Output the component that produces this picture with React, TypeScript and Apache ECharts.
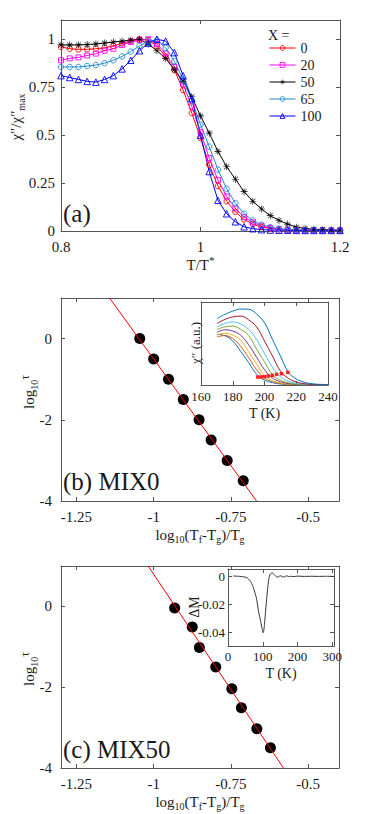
import React, { useEffect, useRef } from 'react';
import * as echarts from 'echarts';

// ---------- Panel (a) data ----------
const X_A = [0.8, 0.8125, 0.825, 0.8375, 0.85, 0.8625, 0.875, 0.8875, 0.9, 0.9125, 0.925, 0.9375, 0.95, 0.9625, 0.975, 0.9875, 1.0, 1.0125, 1.025, 1.0375, 1.05, 1.0625, 1.075, 1.0875, 1.1, 1.1125, 1.125, 1.1375, 1.15, 1.1625, 1.175, 1.1875, 1.2];
const Y_0 = [0.96, 0.95, 0.947, 0.947, 0.95, 0.955, 0.965, 0.978, 0.99, 1.0, 0.995, 0.965, 0.91, 0.84, 0.735, 0.615, 0.485, 0.345, 0.235, 0.155, 0.1, 0.06, 0.036, 0.021, 0.013, 0.008, 0.005, 0.004, 0.004, 0.003, 0.003, 0.003, 0.003];
const Y_20 = [0.89, 0.9, 0.905, 0.915, 0.925, 0.94, 0.95, 0.97, 0.985, 0.995, 1.0, 0.975, 0.925, 0.855, 0.765, 0.65, 0.515, 0.38, 0.265, 0.18, 0.118, 0.072, 0.045, 0.027, 0.016, 0.01, 0.007, 0.005, 0.004, 0.004, 0.003, 0.003, 0.003];
const Y_50 = [0.97, 0.97, 0.97, 0.972, 0.975, 0.98, 0.985, 0.99, 0.995, 1.0, 0.975, 0.94, 0.9, 0.84, 0.78, 0.7, 0.6, 0.51, 0.415, 0.335, 0.27, 0.205, 0.155, 0.115, 0.08, 0.055, 0.036, 0.02, 0.014, 0.009, 0.007, 0.005, 0.005];
const Y_65 = [0.855, 0.855, 0.855, 0.86, 0.865, 0.875, 0.89, 0.91, 0.935, 0.965, 0.99, 0.995, 0.955, 0.885, 0.79, 0.68, 0.555, 0.44, 0.32, 0.22, 0.145, 0.09, 0.055, 0.033, 0.02, 0.012, 0.008, 0.005, 0.004, 0.004, 0.003, 0.003, 0.003];
const Y_100 = [0.81, 0.8, 0.79, 0.78, 0.776, 0.79, 0.81, 0.845, 0.89, 0.94, 0.98, 1.0, 0.99, 0.93, 0.81, 0.69, 0.5, 0.31, 0.16, 0.09, 0.048, 0.022, 0.012, 0.007, 0.005, 0.004, 0.004, 0.003, 0.003, 0.003, 0.003, 0.003, 0.003];
const LEGEND_NAMES = ['0', '20', '50', '65', '100'];

// ---------- Panel (b) data ----------
const LOGDT_B = [-1.045, -1.0, -0.952, -0.904, -0.853, -0.814, -0.762, -0.71];
const LOGTAU_B = [0, -0.5, -1, -1.5, -2, -2.5, -3, -3.5];
const FIT_B_X = [-1.143, -0.667];
const FIT_B_Y = [1, -4];

// inset (b): chi'' curves vs T
const T_IB = [170, 175, 180, 185, 190, 195, 200, 205, 210, 215, 220, 225, 230, 235, 240];
const C1 = [0.61, 0.595, 0.53, 0.405, 0.27, 0.13, 0.061, 0.028, 0.012, 0.006, 0.004, 0.003, 0.003, 0.003, 0.003];
const C2 = [0.58, 0.595, 0.56, 0.465, 0.33, 0.185, 0.084, 0.04, 0.019, 0.009, 0.005, 0.003, 0.003, 0.003, 0.003];
const C3 = [0.6, 0.625, 0.6, 0.54, 0.4, 0.255, 0.114, 0.053, 0.025, 0.011, 0.006, 0.004, 0.003, 0.003, 0.003];
const C4 = [0.635, 0.665, 0.65, 0.6, 0.485, 0.335, 0.185, 0.085, 0.04, 0.018, 0.008, 0.004, 0.003, 0.003, 0.003];
const C5 = [0.67, 0.7, 0.71, 0.67, 0.595, 0.435, 0.28, 0.125, 0.058, 0.027, 0.012, 0.006, 0.004, 0.003, 0.003];
const C6 = [0.7, 0.74, 0.76, 0.735, 0.67, 0.55, 0.38, 0.215, 0.1, 0.046, 0.021, 0.011, 0.007, 0.004, 0.003];
const C7 = [0.74, 0.79, 0.82, 0.83, 0.785, 0.7, 0.53, 0.35, 0.17, 0.08, 0.037, 0.016, 0.008, 0.004, 0.003];
const C8 = [0.8, 0.85, 0.89, 0.915, 0.913, 0.855, 0.75, 0.55, 0.35, 0.155, 0.073, 0.034, 0.015, 0.008, 0.005];
const TF_IB = [195.8, 197.9, 200, 202.3, 204.9, 207.6, 210.7, 214.7];
const TF_VAL = [0.096, 0.096, 0.1, 0.108, 0.116, 0.128, 0.136, 0.152];

// ---------- Panel (c) data ----------
const LOGDT_C = [-0.932, -0.875, -0.852, -0.799, -0.747, -0.716, -0.666, -0.622];
const LOGTAU_C = [-0.04, -0.51, -1.02, -1.5, -2.04, -2.51, -3.03, -3.5];
const FIT_C_X = [-1.018, -0.58];
const FIT_C_Y = [1, -4];

// inset (c): Delta M vs T
const T_DM = [15, 30, 48, 56, 62, 67, 72, 77, 82, 88, 92, 96, 99, 101, 103, 105, 108, 111, 114, 117, 120, 124, 128, 132, 136, 140, 145, 150, 155, 160, 165, 170, 175, 180, 190, 200, 220, 240, 260, 280, 305];
const DM = [0, -0.0002, -0.0007, -0.0015, -0.003, -0.0048, -0.0076, -0.0115, -0.016, -0.0255, -0.03, -0.035, -0.0385, -0.0405, -0.039, -0.0345, -0.0255, -0.017, -0.0088, -0.003, 0.0007, 0.0018, 0.0021, 0.0012, 0.0002, -0.0007, -0.0006, 0.0002, -0.0003, -0.0008, -0.0002, 0.0001, -0.0005, -0.0002, -0.0004, -0.0001, -0.0003, -0.0002, -0.0003, -0.0002, -0.0003];

// ---------- tick values ----------
const A_X_TICKS = [0.8, 1, 1.2];
const A_Y_TICKS = [0, 0.25, 0.5, 0.75, 1];
const BC_X_TICKS = [-1.25, -1, -0.75, -0.5];
const BC_Y_TICKS = [-4, -2, 0];
const IB_X_TICKS = [160, 180, 200, 220, 240];
const IC_X_TICKS = [0, 100, 200, 300];
const IC_Y_TICKS = [-0.04, -0.02, 0];

// ---------- styles ----------
const FONT = "'Liberation Serif', 'Times New Roman', serif";
const TXT = '#1a1a1a';
const AXC = '#555555';
const STAR =
  'path://M-0.45,-5h0.9v10h-0.9z M-5,-0.45h10v0.9h-10z M-3.2,-3.8L3.8,3.2L3.2,3.8L-3.8,-3.2Z M3.2,-3.8L3.8,-3.2L-3.2,3.8L-3.8,3.2Z';
const IB_COLORS = ['#0072BD', '#D95319', '#EDB120', '#7E2F8E', '#77AC30', '#4DBEEE', '#A2142F', '#0072BD'];
const CLEAR = 'rgba(255,255,255,0)';

const RICH_AXIS = {
  sub: { fontSize: 10, lineHeight: 10, verticalAlign: 'bottom', fontFamily: FONT, color: TXT },
  sup: { fontSize: 11, lineHeight: 10, verticalAlign: 'top', fontFamily: FONT, color: TXT },
};
const RICH_G = {
  sub: { fontSize: 10, lineHeight: 10, verticalAlign: 'bottom', fontFamily: FONT, fill: TXT },
  sup: { fontSize: 12, lineHeight: 10, verticalAlign: 'top', fontFamily: FONT, fill: TXT },
};

function makeX(
  gridIndex: number, min: number, max: number, ticks: number[],
  labelSize: number, labelMargin: number, name = '', nameGap = 0, nameSize = 15,
) {
  const base: any = {
    type: 'value', gridIndex, min, max,
    axisLine: { show: true, onZero: false, lineStyle: { color: AXC, width: 1 } },
    axisTick: { show: true, inside: true, length: 4, customValues: ticks, lineStyle: { color: AXC, width: 1 } },
    splitLine: { show: false },
  };
  return [
    {
      ...base, position: 'bottom',
      axisLabel: labelSize
        ? { show: true, customValues: ticks, fontSize: labelSize, fontFamily: FONT, color: TXT, margin: labelMargin }
        : { show: false },
      name, nameLocation: 'middle', nameGap,
      nameTextStyle: { fontSize: nameSize, fontFamily: FONT, color: TXT, lineHeight: 20, rich: RICH_AXIS },
    },
    { ...base, position: 'top', axisLabel: { show: false } },
  ];
}

function makeY(
  gridIndex: number, min: number, max: number, ticks: number[],
  labelSize: number, labelMargin: number,
) {
  const base: any = {
    type: 'value', gridIndex, min, max,
    axisLine: { show: true, onZero: false, lineStyle: { color: AXC, width: 1 } },
    axisTick: { show: ticks.length > 0, inside: true, length: 4, customValues: ticks, lineStyle: { color: AXC, width: 1 } },
    splitLine: { show: false },
  };
  return [
    {
      ...base, position: 'left',
      axisLabel: labelSize
        ? { show: true, customValues: ticks, fontSize: labelSize, fontFamily: FONT, color: TXT, margin: labelMargin }
        : { show: false },
    },
    { ...base, position: 'right', axisLabel: { show: false } },
  ];
}

const pairs = (xs: number[], ys: number[]) => xs.map((x, i) => [x, ys[i]]);

function buildOption(): any {
  const aDefs = [
    { y: Y_0, color: '#ff0000', symbol: 'circle', size: 5.5, hollow: true },
    { y: Y_20, color: '#ff00ff', symbol: 'rect', size: 5, hollow: true },
    { y: Y_50, color: '#000000', symbol: STAR, size: 7, hollow: false },
    { y: Y_65, color: '#1f8ad0', symbol: 'circle', size: 5.5, hollow: true },
    { y: Y_100, color: '#0000ff', symbol: 'triangle', size: 6.5, hollow: true },
  ];
  const styleOf = (d: any) =>
    d.hollow
      ? { color: CLEAR, borderColor: d.color, borderWidth: 0.9 }
      : { color: d.color, borderWidth: 0 };
  const aSeries = aDefs.map((d, i) => ({
    type: 'line', name: LEGEND_NAMES[i], xAxisIndex: 0, yAxisIndex: 0,
    data: pairs(X_A, d.y), symbol: d.symbol, symbolSize: d.size, showAllSymbol: true,
    color: d.color, lineStyle: { width: 1, color: d.color },
    itemStyle: styleOf(d),
  }));
  const legendData = aDefs.map((d, i) => ({
    name: LEGEND_NAMES[i],
    itemStyle: styleOf(d),
    lineStyle: { color: d.color, width: 1 },
  }));

  const ibCurves = [C1, C2, C3, C4, C5, C6, C7, C8];
  const ibSeries = ibCurves.map((c, i) => ({
    type: 'line', xAxisIndex: 6, yAxisIndex: 6, data: pairs(T_IB, c),
    smooth: 0.4, symbol: 'none', lineStyle: { width: 1, color: IB_COLORS[i] }, z: 3,
  }));

  return {
    animation: false,
    backgroundColor: '#ffffff',
    textStyle: { fontFamily: FONT },
    grid: [
      { left: 61, top: 20, width: 279, height: 211 },
      { left: 61, top: 298, width: 278, height: 203 },
      { left: 61, top: 566, width: 278, height: 202 },
      { left: 201, top: 302, width: 127, height: 83, show: true, backgroundColor: '#ffffff', borderWidth: 0 },
      { left: 228, top: 569, width: 106, height: 77, show: true, backgroundColor: '#ffffff', borderWidth: 0 },
    ],
    xAxis: [
      ...makeX(0, 0.8, 1.2, A_X_TICKS, 15, 8, 'T/T{sup|*}', 18),
      ...makeX(1, -1.3, -0.4, BC_X_TICKS, 15, 8, 'log{sub|10}(T{sub|f}-T{sub|g})/T{sub|g}', 17),
      ...makeX(2, -1.3, -0.4, BC_X_TICKS, 15, 8, 'log{sub|10}(T{sub|f}-T{sub|g})/T{sub|g}', 19),
      ...makeX(3, 160, 240, IB_X_TICKS, 13, 5, 'T (K)', 15, 14),
      ...makeX(4, 0, 305, IC_X_TICKS, 13, 4, 'T (K)', 11, 14),
    ],
    yAxis: [
      ...makeY(0, 0, 1.1, A_Y_TICKS, 15, 6),
      ...makeY(1, -4, 1, BC_Y_TICKS, 15, 9),
      ...makeY(2, -4, 1, BC_Y_TICKS, 15, 9),
      ...makeY(3, 0, 1, [], 0, 0),
      ...makeY(4, -0.05, 0.005, IC_Y_TICKS, 13, 3),
    ],
    legend: {
      data: legendData, orient: 'vertical', left: 269, top: 41, padding: 0,
      itemWidth: 26, itemHeight: 6, itemGap: 3,
      textStyle: { fontSize: 14, fontFamily: FONT, color: TXT, lineHeight: 14 },
    },
    series: [
      ...aSeries,
      {
        type: 'line', xAxisIndex: 2, yAxisIndex: 2, data: pairs(FIT_B_X, FIT_B_Y),
        symbol: 'none', lineStyle: { width: 1, color: '#ff0000' },
      },
      {
        type: 'scatter', xAxisIndex: 2, yAxisIndex: 2, data: pairs(LOGDT_B, LOGTAU_B),
        symbolSize: 11, itemStyle: { color: '#000000', opacity: 1 },
      },
      {
        type: 'line', xAxisIndex: 4, yAxisIndex: 4, data: pairs(FIT_C_X, FIT_C_Y),
        symbol: 'none', lineStyle: { width: 1, color: '#ff0000' },
      },
      {
        type: 'scatter', xAxisIndex: 4, yAxisIndex: 4, data: pairs(LOGDT_C, LOGTAU_C),
        symbolSize: 11, itemStyle: { color: '#000000', opacity: 1 },
      },
      ...ibSeries,
      {
        type: 'scatter', xAxisIndex: 6, yAxisIndex: 6, data: pairs(TF_IB, TF_VAL),
        symbol: 'rect', symbolSize: 3.5, itemStyle: { color: '#ff2020', opacity: 1 }, z: 4,
      },
      {
        type: 'line', xAxisIndex: 8, yAxisIndex: 8, data: pairs(T_DM, DM),
        symbol: 'none', smooth: 0.2, lineStyle: { width: 1, color: '#333333' },
      },
    ],
    graphic: [
      { type: 'text', left: 63, top: 201, style: { text: '(a)', fontSize: 25, fontFamily: FONT, fill: TXT } },
      { type: 'text', left: 63, top: 469, style: { text: '(b) MIX0', fontSize: 25, fontFamily: FONT, fill: TXT } },
      { type: 'text', left: 63, top: 737, style: { text: '(c) MIX50', fontSize: 25, fontFamily: FONT, fill: TXT } },
      { type: 'text', left: 268, top: 28, style: { text: 'X =', fontSize: 14, fontFamily: FONT, fill: TXT } },
      {
        type: 'text', x: 16, y: 117, rotation: Math.PI / 2,
        style: { text: 'χ″/χ″{sub|max}', fontSize: 15, lineHeight: 20, fontFamily: FONT, fill: TXT, align: 'center', verticalAlign: 'middle', rich: RICH_G },
      },
      {
        type: 'text', x: 29, y: 392, rotation: Math.PI / 2,
        style: { text: 'log{sub|10}{sup|τ}', fontSize: 15, lineHeight: 20, fontFamily: FONT, fill: TXT, align: 'center', verticalAlign: 'middle', rich: RICH_G },
      },
      {
        type: 'text', x: 29, y: 669, rotation: Math.PI / 2,
        style: { text: 'log{sub|10}{sup|τ}', fontSize: 15, lineHeight: 20, fontFamily: FONT, fill: TXT, align: 'center', verticalAlign: 'middle', rich: RICH_G },
      },
      {
        type: 'text', x: 195.5, y: 343, rotation: Math.PI / 2,
        style: { text: 'χ′′ (a.u.)', fontSize: 13, fontFamily: FONT, fill: TXT, align: 'center', verticalAlign: 'middle' },
      },
      {
        type: 'text', x: 194, y: 607, rotation: Math.PI / 2,
        style: { text: 'ΔM', fontSize: 14, fontFamily: FONT, fill: TXT, align: 'center', verticalAlign: 'middle' },
      },
    ],
  };
}

export default function App() {
  const ref = useRef<HTMLDivElement>(null);
  useEffect(() => {
    document.body.style.margin = '0';
    const chart = echarts.init(ref.current as HTMLDivElement, undefined, { renderer: 'svg' });
    chart.setOption(buildOption());
    return () => chart.dispose();
  }, []);
  return <div ref={ref} style={{ width: 374, height: 814 }} />;
}
